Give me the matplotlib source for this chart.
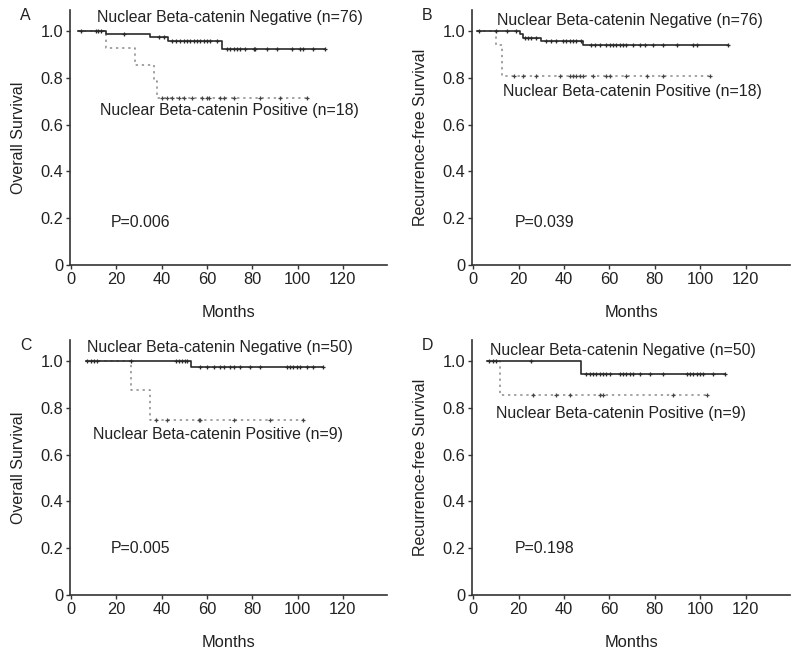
import numpy as np
import matplotlib
matplotlib.use('Agg')
import matplotlib.pyplot as plt

plt.rcParams['font.family'] = ['Liberation Sans', 'DejaVu Sans']

# step curves: (times, survival) ; censor times
a_neg_t = [3, 15.4, 35, 42.7, 66.7, 112]
a_neg_s = [1.0, 0.987, 0.973, 0.959, 0.923, 0.923]
a_neg_c = [4.2, 10.8, 11.8, 13.0, 23.3, 38.7, 40.9, 44.6, 46.1, 48.3, 49.7, 51.3, 52.7, 54.1,
           55.6, 57.1, 58.5, 60.1, 61.5, 64.4, 68.9, 70.3, 71.8, 73.3, 74.7, 76.9, 80.6, 81.3,
           86.5, 90.9, 97.5, 101.2, 102.6, 107.0, 112.2]
a_pos_t = [3, 15.4, 28, 36.5, 38.0, 104]
a_pos_s = [1.0, 0.929, 0.857, 0.786, 0.714, 0.714]
a_pos_c = [40.2, 42.4, 44.6, 47.5, 49.7, 53.4, 57.8, 60.0, 60.7, 65.9, 67.4, 71.8, 83.5, 92.3, 104.1]

b_neg_t = [1.5, 20.5, 21.8, 30, 48.4, 112.4]
b_neg_s = [1.0, 0.986, 0.972, 0.957, 0.940, 0.940]
b_neg_c = [2.8, 10.2, 14.9, 19.0, 22.7, 24.1, 25.6, 27.8, 32.2, 34.4, 36.6, 39.6, 41.1, 42.5,
           44.0, 45.4, 47.7, 52.1, 53.6, 55.8, 58.7, 60.2, 61.7, 63.1, 64.6, 66.1, 67.5, 70.5,
           73.4, 75.6, 79.3, 83.7, 89.6, 96.9, 98.5, 112.4]
b_pos_t = [1.5, 10, 12.8, 104]
b_pos_s = [1.0, 0.940, 0.808, 0.808]
b_pos_c = [18.2, 21.9, 27.8, 38.1, 42.5, 44.0, 45.5, 46.9, 48.4, 52.8, 58.7, 60.2, 67.5, 76.4,
           83.7, 104.3]

c_neg_t = [6.4, 53, 111.4]
c_neg_s = [1.0, 0.975, 0.975]
c_neg_c = [7.2, 8.6, 10.1, 11.6, 26.3, 46.1, 47.5, 49.0, 50.5, 51.3, 57.1, 60.0, 63.0, 65.9,
           67.4, 70.3, 71.8, 74.7, 79.1, 83.6, 95.3, 96.7, 98.2, 99.7, 101.1, 104.1, 107.0, 111.4]
c_pos_t = [6.4, 26.3, 35, 103]
c_pos_s = [1.0, 0.875, 0.75, 0.75]
c_pos_c = [37.3, 42.4, 56.3, 57.1, 71.8, 87.9, 102.6]

d_neg_t = [6, 47.7, 111]
d_neg_s = [1.0, 0.944, 0.944]
d_neg_c = [7.2, 8.7, 10.2, 25.6, 49.9, 51.3, 52.8, 54.3, 55.8, 57.2, 58.7, 60.2, 64.6, 66.1,
           67.5, 69.0, 70.5, 73.4, 77.8, 83.7, 94.0, 95.5, 96.9, 98.4, 99.9, 101.3, 105.8, 110.9]
d_pos_t = [6, 12, 103]
d_pos_s = [1.0, 0.857, 0.857]
d_pos_c = [26.3, 36.6, 42.5, 55.8, 57.2, 88.1, 102.9]

panels = [
    dict(letter='A', ylabel='Overall Survival', p='P=0.006', n=(76, 18),
         neg=(a_neg_t, a_neg_s, a_neg_c), pos=(a_pos_t, a_pos_s, a_pos_c),
         neg_xy=(70, 1.06), pos_xy=(70, 0.662), p_xy=(17.4, 0.182)),
    dict(letter='B', ylabel='Recurrence-free Survival', p='P=0.039', n=(76, 18),
         neg=(b_neg_t, b_neg_s, b_neg_c), pos=(b_pos_t, b_pos_s, b_pos_c),
         neg_xy=(69, 1.045), pos_xy=(70, 0.741), p_xy=(18.2, 0.18)),
    dict(letter='C', ylabel='Overall Survival', p='P=0.005', n=(50, 9),
         neg=(c_neg_t, c_neg_s, c_neg_c), pos=(c_pos_t, c_pos_s, c_pos_c),
         neg_xy=(65.7, 1.057), pos_xy=(65, 0.686), p_xy=(17.4, 0.2)),
    dict(letter='D', ylabel='Recurrence-free Survival', p='P=0.198', n=(50, 9),
         neg=(d_neg_t, d_neg_s, d_neg_c), pos=(d_pos_t, d_pos_s, d_pos_c),
         neg_xy=(66, 1.047), pos_xy=(65, 0.775), p_xy=(18.2, 0.2)),
]

W, H = 800, 655
fig = plt.figure(figsize=(W / 100, H / 100), dpi=100)
# axes boxes in pixels: left, top, right, bottom
boxes = [(70, 10, 387, 265), (472, 10, 790, 265), (70, 340, 387, 595), (472, 340, 790, 595)]
txt = '#222222'


def surv_at(t, s, x):
    idx = np.searchsorted(t, x, side='right') - 1
    idx = np.clip(idx, 0, len(s) - 1)
    return np.asarray(s)[idx]


for pan, (l, t, r, b) in zip(panels, boxes):
    ax = fig.add_axes([l / W, 1 - b / H, (r - l) / W, (b - t) / H])
    nt, ns, nc = pan['neg']
    pt, ps, pc = pan['pos']
    ax.plot(pt, ps, drawstyle='steps-post', color='#8a8a8a', linestyle=(0, (1.5, 2.5)), lw=1.1)
    ax.plot(nt, ns, drawstyle='steps-post', color='#2a2a2a', lw=1.2)
    ax.plot(pc, surv_at(pt, ps, pc), linestyle='none', marker='+', ms=3.5, mew=0.9, color='#444444')
    ax.plot(nc, surv_at(nt, ns, nc), linestyle='none', marker='+', ms=3.5, mew=0.9, color='#2a2a2a')

    ax.set_xlim(-0.5, 139.5)
    ax.set_ylim(0, 1.09)
    ax.set_xticks(range(0, 121, 20))
    ax.set_yticks([0, 0.2, 0.4, 0.6, 0.8, 1.0])
    ax.set_yticklabels(['0', '0.2', '0.4', '0.6', '0.8', '1.0'])
    for side in ['top', 'right']:
        ax.spines[side].set_visible(False)
    for side in ['left', 'bottom']:
        ax.spines[side].set_color('#333333')
        ax.spines[side].set_linewidth(1.2)
    ax.tick_params(direction='out', length=3, width=1, color='#333333', labelsize=11.8,
                   labelcolor=txt, pad=2)
    ax.set_xlabel('Months', fontsize=11.8, color=txt, labelpad=13)
    ax.set_ylabel(pan['ylabel'], fontsize=11.5, color=txt, labelpad=10)

    ax.text(*pan['neg_xy'], 'Nuclear Beta-catenin Negative (n=%d)' % pan['n'][0],
            ha='center', va='center', fontsize=11.4, color=txt)
    ax.text(*pan['pos_xy'], 'Nuclear Beta-catenin Positive (n=%d)' % pan['n'][1],
            ha='center', va='center', fontsize=11.4, color=txt)
    ax.text(*pan['p_xy'], pan['p'], ha='left', va='center', fontsize=11.4, color=txt)
    fig.text((l - 50) / W, 1 - (t + 5) / H, pan['letter'], ha='left', va='center',
             fontsize=11.4, color=txt)

fig.savefig('out.png', dpi=100)
